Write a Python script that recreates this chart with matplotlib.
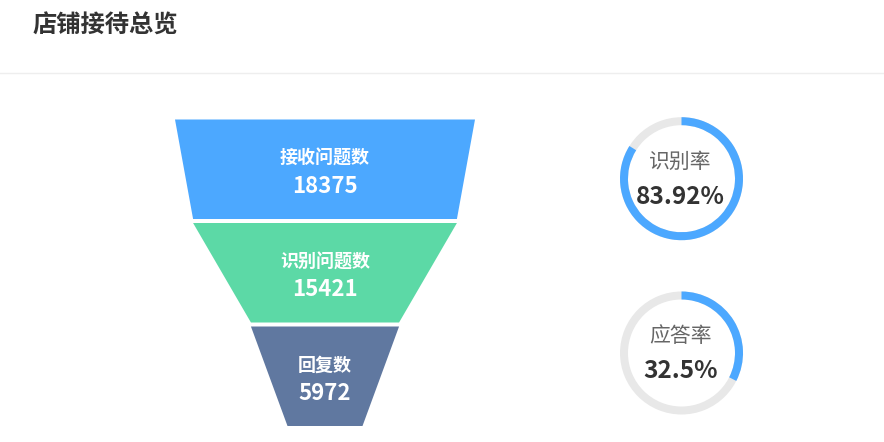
import matplotlib
matplotlib.use("Agg")
import matplotlib.pyplot as plt
from matplotlib.patches import Polygon, Wedge

plt.rcParams['font.family'] = ['Noto Sans CJK SC', 'DejaVu Sans']

# data
title = "店铺接待总览"
stages = ["接收问题数", "识别问题数", "回复数"]
counts = [18375, 15421, 5972]
stage_colors = ["#4ca8ff", "#5cd9a6", "#6078a0"]
rate_names = ["识别率", "应答率"]
rates = [83.92, 32.5]

W, H = 884, 442
fig = plt.figure(figsize=(W / 100, H / 100), dpi=100)
ax = fig.add_axes([0, 0, 1, 1])
ax.set_xlim(0, W)
ax.set_ylim(H, 0)
ax.axis("off")

# header
ax.text(33, 26, title, fontsize=17.5, fontweight="bold", color="#333333",
        va="center", ha="left")
ax.plot([0, W], [73, 73], color="#eeeeee", lw=1)

# funnel, width mapped linearly from 0..max onto min_w..max_w
cx = 325
top_y = 119.5
piece_h = 99.5
gap = 4
max_w, min_w = 300, 75
vmax = max(counts)


def width_of(v):
    return min_w + (max_w - min_w) * v / vmax


for i, (name, v, col) in enumerate(zip(stages, counts, stage_colors)):
    y0 = top_y + i * (piece_h + gap)
    y1 = y0 + piece_h
    w0 = width_of(v)
    w1 = width_of(counts[i + 1]) if i + 1 < len(counts) else min_w
    poly = Polygon([(cx - w0 / 2, y0), (cx + w0 / 2, y0),
                    (cx + w1 / 2, y1), (cx - w1 / 2, y1)],
                   closed=True, facecolor=col, edgecolor="none")
    ax.add_patch(poly)
    ym = (y0 + y1) / 2
    ax.text(cx, ym - 11, name, fontsize=13, fontweight="bold", color="white",
            ha="center", va="center")
    ax.text(cx, ym + 17, str(v), fontsize=16, fontweight="bold", color="white",
            ha="center", va="center")

# rate rings
ring_cx = 681.5
ring_cy = [178.7, 353]
r_out = 61.5
ring_w = 8
for name, p, cy in zip(rate_names, rates, ring_cy):
    ax.add_patch(Wedge((ring_cx, cy), r_out, 0, 360, width=ring_w,
                       facecolor="#e8e8e8", edgecolor="none"))
    ax.add_patch(Wedge((ring_cx, cy), r_out, 270, 270 + 360 * p / 100,
                       width=ring_w, facecolor="#4ca8ff", edgecolor="none"))
    ax.text(ring_cx - 1, cy - 17, name, fontsize=15, color="#666666",
            ha="center", va="center")
    ax.text(ring_cx - 1, cy + 18, f"{p:g}%", fontsize=17.5, fontweight="bold",
            color="#333333", ha="center", va="center")

fig.savefig("out.png", dpi=100, facecolor="white")
